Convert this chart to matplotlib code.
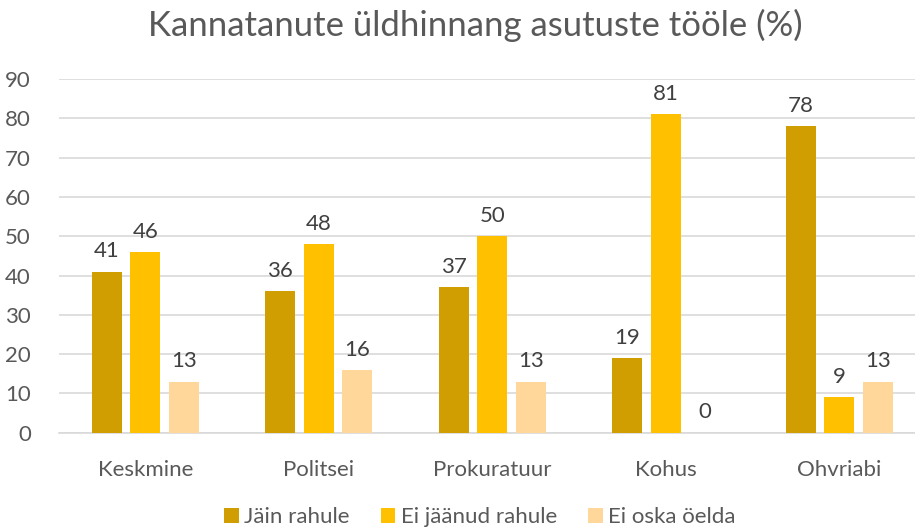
import matplotlib
matplotlib.use("Agg")
import matplotlib.pyplot as plt
import numpy as np

categories = ["Keskmine", "Politsei", "Prokuratuur", "Kohus", "Ohvriabi"]
series_names = ["Jäin rahule", "Ei jäänud rahule", "Ei oska öelda"]
jain = [41, 36, 37, 19, 78]
ei_jaanud = [46, 48, 50, 81, 9]
ei_oska = [13, 16, 13, 0, 13]
yticks = list(range(0, 100, 10))

colors = ["#D09E00", "#FFC000", "#FFD79B"]
plt.rcParams['font.family'] = ['Lato', 'DejaVu Sans']

fig = plt.figure(figsize=(9.15, 5.29), dpi=100)
ax = fig.add_axes([58.75/915, (529-432.7)/529, (926-58.75)/915, (432.7-79)/529])

x = np.arange(len(categories))
step = 0.222
width = 0.173
fs = 16
for i, (vals, c, name) in enumerate(zip([jain, ei_jaanud, ei_oska], colors, series_names)):
    pos = x + (i - 1) * step
    ax.bar(pos, vals, width, color=c, label=name, zorder=3)
    for p, v in zip(pos, vals):
        ax.text(p, v + 2.6, str(v), ha='center', va='bottom', fontsize=fs, color='#404040')

ax.set_xlim(-0.5, 4.5)
ax.set_ylim(0, 90)
ax.set_yticks(yticks)
ax.yaxis.grid(True, color='#D9D9D9', linewidth=1.2, zorder=0)
ax.set_axisbelow(True)
for s in ['top', 'right', 'left']:
    ax.spines[s].set_visible(False)
ax.spines['bottom'].set_color('#D9D9D9')
ax.spines['bottom'].set_linewidth(1.2)
ax.tick_params(axis='both', length=0, labelsize=fs, labelcolor='#595959')
ax.tick_params(axis='x', pad=20)
ax.tick_params(axis='y', pad=20)
ax.set_xticks(x)
ax.set_xticklabels(categories)

fig.text(475/915, 1 - 25/529, "Kannatanute üldhinnang asutuste tööle (%)", ha='center', va='center',
         fontsize=25, color='#595959')

fig.legend(loc='center', bbox_to_anchor=(480/915, 1 - 517/529), ncol=3, frameon=False,
           fontsize=fs, handlelength=0.65, handleheight=0.65, handletextpad=0.25,
           columnspacing=1.4, labelcolor='#595959')

fig.savefig("out.png", dpi=100)
